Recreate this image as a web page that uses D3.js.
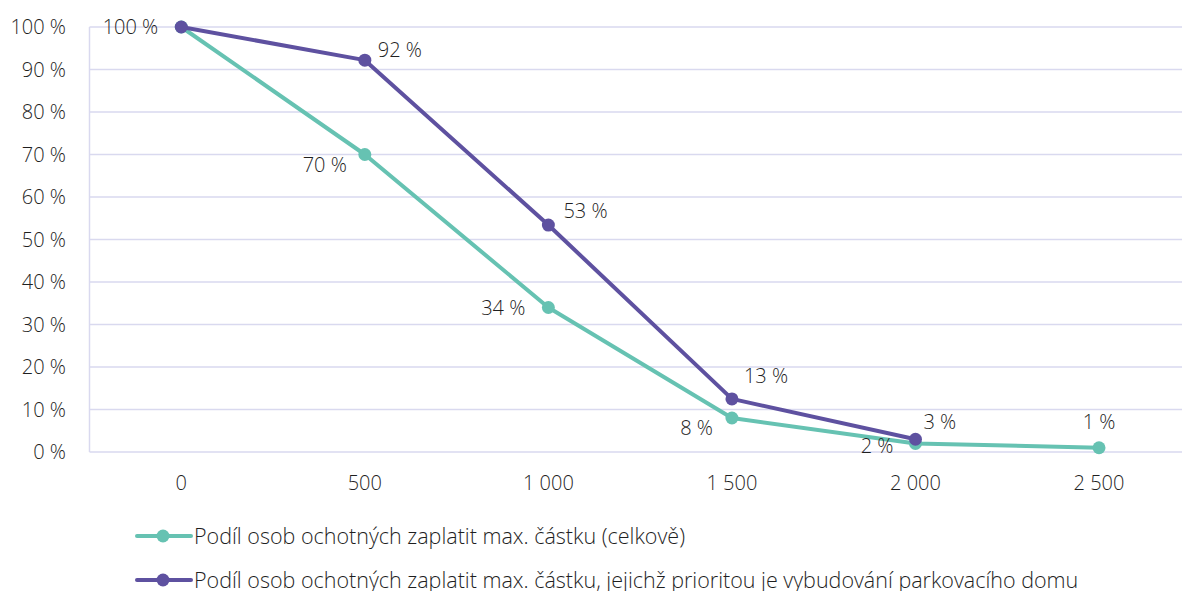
<!DOCTYPE html>
<html><head><meta charset="utf-8">
<script src="https://cdn.jsdelivr.net/npm/d3@7"></script>
<style>
html,body{margin:0;padding:0;background:#fff;overflow:hidden;}
text{font-family:"Open Sans",sans-serif;font-weight:300;fill:#1f1f1f;}
</style></head>
<body>
<svg id="c" width="1182" height="591"></svg>
<script>
const categories = ["0", "500", "1 000", "1 500", "2 000", "2 500"];
const yTicks = [0, 10, 20, 30, 40, 50, 60, 70, 80, 90, 100];
const seriesNames = [
  "Podíl osob ochotných zaplatit max. částku (celkově)",
  "Podíl osob ochotných zaplatit max. částku, jejichž prioritou je vybudování parkovacího domu"
];
const totalValues = [100, 70, 34, 8, 2, 1];
const priorityValues = [100, 92.2, 53.4, 12.5, 3];
const totalLabels = ["100 %", "70 %", "34 %", "8 %", "2 %", "1 %"];
const priorityLabels = ["", "92 %", "53 %", "13 %", "3 %"];

(function () {
const colors = ["#66c2b2", "#5e51a0"];
const FS = 20;
// label placement offsets (styling)
const totalLabelOff = [[-23,0,"end"],[-18,10,"end"],[-23,0,"end"],[-19,10,"end"],[-22,2,"end"],[0,-26,"middle"]];
const priorityLabelOff = [[0,0,"start"],[13,-10,"start"],[15,-14,"start"],[12,-23,"start"],[8,-17,"start"]];

const svg = d3.select("#c");
const mLeft = 89.5, mRight = 1190.8, mTop = 27, mBottom = 452;

const x = d3.scaleBand().domain(categories).range([mLeft, mRight]);
const y = d3.scaleLinear().domain([0, 100]).range([mBottom, mTop]);
const cx = c => x(c) + x.bandwidth() / 2;

// gridlines
svg.append("g").selectAll("line").data(yTicks).join("line")
  .attr("x1", mLeft).attr("x2", mRight)
  .attr("y1", d => y(d)).attr("y2", d => y(d))
  .attr("stroke", "#d9d9ef").attr("stroke-width", 1.5);
svg.append("line").attr("x1", mLeft).attr("x2", mLeft).attr("y1", mTop).attr("y2", mBottom)
  .attr("stroke", "#d9d9ef").attr("stroke-width", 1.5);

// y axis labels
svg.append("g").selectAll("text").data(yTicks).join("text")
  .attr("x", 66).attr("y", d => y(d)).attr("dy", "0.36em")
  .attr("text-anchor", "end").attr("font-size", FS)
  .text(d => d + " %");

// x axis labels
svg.append("g").selectAll("text").data(categories).join("text")
  .attr("x", d => cx(d)).attr("y", 483).attr("dy", "0.36em")
  .attr("text-anchor", "middle").attr("font-size", FS)
  .text(d => d);

const line = d3.line().x(d => cx(d.c)).y(d => y(d.v));

function drawSeries(vals, color) {
  const pts = vals.map((v, i) => ({c: categories[i], v}));
  svg.append("path").datum(pts).attr("d", line)
    .attr("fill", "none").attr("stroke", color).attr("stroke-width", 4)
    .attr("stroke-linejoin", "round");
  svg.append("g").selectAll("circle").data(pts).join("circle")
    .attr("cx", d => cx(d.c)).attr("cy", d => y(d.v)).attr("r", 6.5)
    .attr("fill", color);
  return pts;
}
const tp = drawSeries(totalValues, colors[0]);
const pp = drawSeries(priorityValues, colors[1]);

function drawLabels(pts, labels, offs) {
  svg.append("g").selectAll("text").data(pts).join("text")
    .attr("x", (d, i) => cx(d.c) + offs[i][0])
    .attr("y", (d, i) => y(d.v) + offs[i][1])
    .attr("dy", "0.36em")
    .attr("text-anchor", (d, i) => offs[i][2])
    .attr("font-size", FS)
    .text((d, i) => labels[i]);
}
drawLabels(tp, totalLabels, totalLabelOff);
drawLabels(pp, priorityLabels, priorityLabelOff);

// legend
const lg = svg.append("g");
seriesNames.forEach((name, i) => {
  const ly = 536 + i * 44;
  lg.append("line").attr("x1", 137).attr("x2", 191).attr("y1", ly).attr("y2", ly)
    .attr("stroke", colors[i]).attr("stroke-width", 4).attr("stroke-linecap", "round");
  lg.append("circle").attr("cx", 163).attr("cy", ly).attr("r", 6.5).attr("fill", colors[i]);
  lg.append("text").attr("x", 194).attr("y", ly).attr("dy", "0.36em")
    .attr("font-size", 21.5).text(name);
});
})();
</script>
</body></html>
